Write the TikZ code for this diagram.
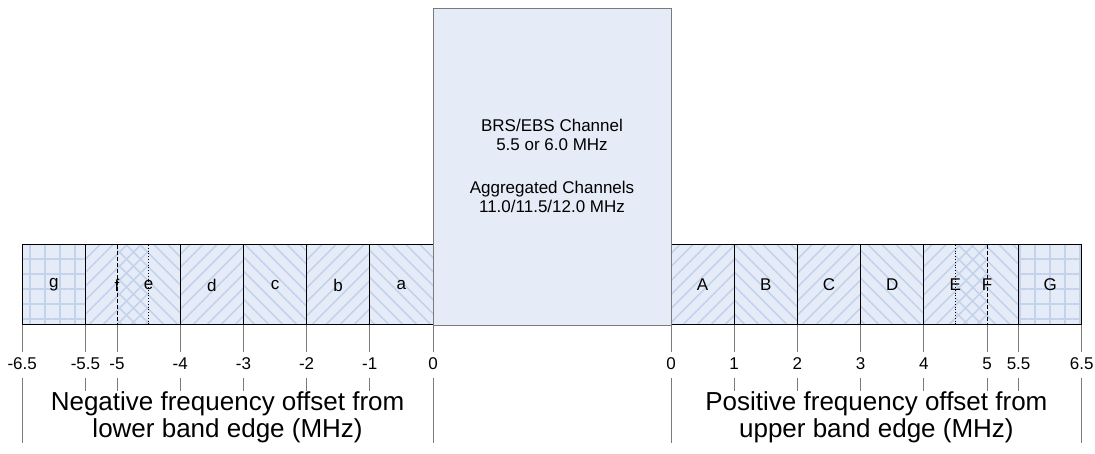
\documentclass[tikz,border=0pt]{standalone}
\usepackage{fontspec}
\setmainfont{Liberation Sans}
\usetikzlibrary{patterns.meta, positioning}
\definecolor{BandFill}{HTML}{E6ECF7}
\definecolor{HatchLine}{HTML}{C4D3EC}
\definecolor{EdgeGray}{HTML}{7A7A7A}
% MHz offset -> x position, lower and upper edge
\newcommand\lx[1]{433+63.2*(#1)}
\newcommand\rx[1]{671+63.2*(#1)}

\begin{document}
\begin{tikzpicture}[
    x=1pt, y=-1pt,
    rise/.style={pattern={Lines[angle=45, distance=10.5pt, line width=2pt]},
                 pattern color=HatchLine},
    fall/.style={pattern={Lines[angle=-45, distance=10.5pt, line width=2pt]},
                 pattern color=HatchLine},
    mesh/.style={pattern={Hatch[angle=0, distance=15pt, line width=2pt]},
                 pattern color=HatchLine},
    bandedge/.style={draw=black, line width=1pt},
    lbl/.style={font=\fontsize{17}{19}\selectfont},
    scaletick/.style={draw=EdgeGray, line width=1pt},
    offsetcap/.style={font=\fontsize{26}{27}\selectfont, align=center}
]
\useasboundingbox (0,0) rectangle (1095,454);

% ===================================================================
% BANDS
% ===================================================================
\fill[BandFill] ({\lx{-6.5}},245) rectangle ({\lx{0}},325);
\fill[BandFill] ({\rx{0}},245) rectangle ({\rx{6.5}},325);

\foreach \a/\b/\s in {-6.5/-5.5/mesh, -5.5/-4.5/rise, -5/-4/fall,
                      -4/-3/rise, -3/-2/fall, -2/-1/rise, -1/0/fall} {
    \path[style=\s] ({\lx{\a}},245) rectangle ({\lx{\b}},325);
}
\foreach \a/\b/\s in {0/1/rise, 1/2/fall, 2/3/rise, 3/4/fall,
                      4/5/rise, 4.5/5.5/fall, 5.5/6.5/mesh} {
    \path[style=\s] ({\rx{\a}},245) rectangle ({\rx{\b}},325);
}

\draw[bandedge] ({\lx{-6.5}},245) rectangle ({\lx{0}},325);
\draw[bandedge] ({\rx{0}},245) rectangle ({\rx{6.5}},325);
\foreach \v in {-5.5, -4, -3, -2, -1} {
    \draw[bandedge] ({\lx{\v}},245) -- ({\lx{\v}},325);
}
\foreach \v in {1, 2, 3, 4, 5.5} {
    \draw[bandedge] ({\rx{\v}},245) -- ({\rx{\v}},325);
}
\draw[black, line width=1pt, dash pattern=on 4pt off 2pt] ({\lx{-5}},245) -- ({\lx{-5}},325);
\draw[black, line width=0.8pt, dotted] ({\lx{-4.5}},245) -- ({\lx{-4.5}},325);
\draw[black, line width=0.8pt, dotted] ({\rx{4.5}},245) -- ({\rx{4.5}},325);
\draw[black, line width=1pt, dash pattern=on 4pt off 2pt] ({\rx{5}},245) -- ({\rx{5}},325);

\foreach \t/\p in {g/-6, f/-5, e/-4.5, d/-3.5, c/-2.5, b/-1.5, a/-0.5} {
    \node[lbl] (lab-\t) at ({\lx{\p}},285) {\t};
}
\foreach \t/\p in {A/0.5, B/1.5, C/2.5, D/3.5, E/4.5, F/5, G/6} {
    \node[lbl] (lab-\t) at ({\rx{\p}},285) {\t};
}

% ===================================================================
% CHANNEL
% ===================================================================
\node[draw=EdgeGray, fill=BandFill, line width=1.3pt, anchor=north west,
      minimum width=238pt, minimum height=317pt, inner sep=0pt]
    (chan) at (433,8) {};
\node[lbl, align=center] (chantext) at (552,166)
    {BRS/EBS Channel\\5.5 or 6.0 MHz\\[24pt]Aggregated Channels\\11.0/11.5/12.0 MHz};

% ===================================================================
% SCALES
% ===================================================================
\foreach \v [count=\i] in {-6.5, -5.5, -5, -4, -3, -2, -1, 0} {
    \draw[scaletick] ({\lx{\v}},325) -- ({\lx{\v}},352);
    \node[lbl] (ltick\i) at ({\lx{\v}},364) {\v};
    \draw[scaletick] ({\lx{\v}},378) -- ({\lx{\v}},391);
}
\foreach \v [count=\i] in {0, 1, 2, 3, 4, 5, 5.5, 6.5} {
    \draw[scaletick] ({\rx{\v}},325) -- ({\rx{\v}},352);
    \node[lbl] (rtick\i) at ({\rx{\v}},364) {\v};
    \draw[scaletick] ({\rx{\v}},378) -- ({\rx{\v}},391);
}
\foreach \v in {-6.5, 0} {
    \draw[scaletick] ({\lx{\v}},391) -- ({\lx{\v}},443);
}
\foreach \v in {0, 6.5} {
    \draw[scaletick] ({\rx{\v}},391) -- ({\rx{\v}},443);
}

\node[offsetcap] (negcap) at ({\lx{-3.25}},417)
    {Negative frequency offset from\\lower band edge (MHz)};
\node[offsetcap] (poscap) at ({\rx{3.25}},417)
    {Positive frequency offset from\\upper band edge (MHz)};

\end{tikzpicture}
\end{document}
